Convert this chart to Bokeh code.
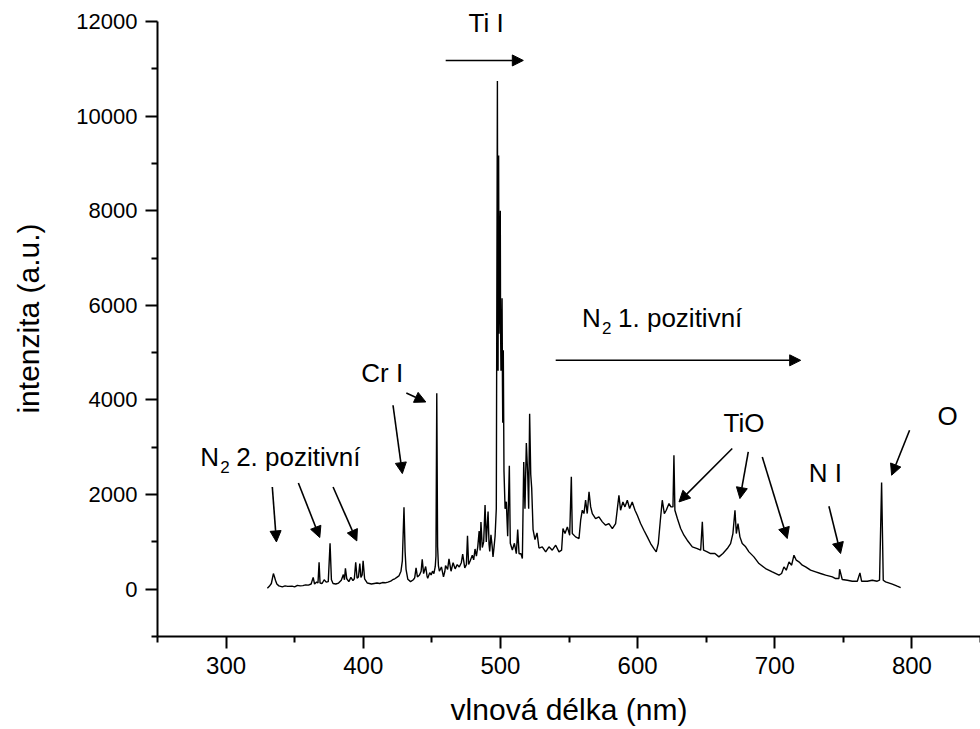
from bokeh.plotting import figure
from bokeh.models import FixedTicker, Label, Arrow, NormalHead, Range1d
from bokeh.embed import file_html
from bokeh.resources import INLINE

# ---- spectrum (wavelength nm, intensity a.u.) ----
wavelength = [
    330.1, 331.5, 333.0, 334.5, 335.3, 336.0, 337.0, 338.5, 341.0, 343.0, 345.0, 348.0, 350.0,
    352.0, 354.0, 356.0, 358.0, 360.0, 362.0, 363.5, 364.5, 366.0, 367.0, 367.8, 368.5, 370.0,
    371.5, 373.0, 374.5, 375.8, 376.8, 378.0, 380.0, 382.0, 384.0, 385.5, 386.3, 387.0, 388.0,
    389.5, 391.0, 392.5, 393.5, 394.5, 395.5, 396.5, 397.5, 398.3, 399.2, 399.9, 401.0, 403.0,
    406.0, 408.0, 410.0, 412.0, 414.0, 416.0, 418.0, 420.0, 421.5, 423.0, 424.5, 426.0, 427.5,
    428.5, 429.7, 430.5, 431.2, 432.5, 434.5, 436.5, 437.5, 438.5, 439.5, 441.0, 442.2, 443.0,
    444.0, 445.5, 446.5, 447.0, 448.5, 449.5, 450.5, 451.5, 452.5, 453.0, 453.6, 454.2, 454.8,
    455.5, 457.0, 458.5, 459.5, 460.0,
    461.5, 462.5, 464.0, 465.5, 467.0, 468.5, 470.0, 471.5, 472.5, 474.0, 475.2, 476.0, 476.8,
    478.0, 479.5, 480.5, 481.5, 482.5, 483.5, 484.5, 485.2, 485.8, 486.8, 487.8, 488.8, 489.7,
    490.3, 491.0, 491.7, 492.2, 493.1, 494.0, 494.6, 495.4, 496.1, 497.0,
    497.8, 498.0, 498.3, 498.5, 498.7, 499.0, 499.2, 499.5, 499.9, 500.1, 500.4, 500.8, 501.2,
    501.5, 501.7, 502.1, 502.6, 503.4, 504.3, 505.3,
    506.5, 507.2, 508.7, 510.2, 511.6, 512.6, 513.6, 515.0, 516.0, 517.0, 517.9, 518.9, 519.9,
    520.6, 521.3, 522.1, 522.8, 523.8, 525.2, 526.7, 528.1,
    530.5, 533.0, 535.4, 537.8, 540.3, 542.7, 544.6, 545.6, 547.1, 548.8, 550.5, 551.7, 552.4,
    554.8, 557.3, 558.5, 559.7, 560.9, 562.1, 563.3, 564.6, 565.8, 567.0, 569.4, 571.8, 574.3,
    576.7, 579.1, 581.6, 584.0, 586.4, 587.6, 589.3, 590.8, 592.5, 594.2, 596.1, 598.1, 599.8,
    602.2, 604.6, 607.1, 609.5, 611.9, 613.6, 615.1, 616.6, 618.0, 619.5, 620.9, 622.9, 624.3,
    625.8, 626.5, 627.2, 629.0, 631.4, 633.8, 636.2, 639.9, 643.5, 646.0, 647.2, 648.1, 650.8,
    653.2, 656.4, 659.3, 662.2, 665.4, 667.8, 669.5, 671.0, 672.0, 673.2, 674.6, 676.3, 678.8,
    681.2, 684.8, 688.5, 693.3, 698.2, 703.1, 705.0, 706.7, 708.4, 710.4, 712.3, 714.0, 715.7,
    717.6, 720.1, 722.5, 726.1, 729.8, 733.4, 737.1, 742.0, 744.4, 746.8, 747.3, 749.2, 752.9,
    756.5, 760.2, 762.1, 763.3, 767.5, 771.1, 774.7, 776.4, 777.9, 779.1, 780.8, 785.7, 789.3,
    791.8,
]
intensity = [
    20, 60, 120, 330, 260, 190, 110, 70, 50, 70, 60, 65, 50,
    80, 70, 75, 90, 85, 110, 250, 110, 150, 130, 570, 130, 120,
    200, 150, 160, 970, 200, 120, 110, 130, 190, 310, 200, 440, 220,
    160, 250, 180, 220, 570, 230, 260, 540, 250, 300, 600, 220, 130,
    110, 120, 130, 120, 140, 135, 150, 170, 200, 220, 250, 280, 380,
    600, 1730, 800, 420, 210, 160, 200, 240, 450, 260, 300, 380, 630,
    330, 480, 280, 230, 350, 300, 380, 330, 480, 700, 4140, 900, 500,
    380, 470, 260, 380, 500,
    420, 640, 380, 560, 430, 520, 470, 560, 740, 450, 520, 1130, 520,
    600, 720, 620, 850, 700, 900, 1230, 820, 1420, 880, 1000, 1780, 1000,
    1300, 1640, 950, 800, 1150, 900, 680, 900, 1120, 1700,
    10740, 7000, 4620, 8200, 9170, 5400, 6080, 7300, 8000, 5600, 4620, 5200, 6150,
    4300, 3520, 5050, 2500, 1700, 1850, 1120,
    2610, 970, 830, 970, 750, 1260, 750, 750, 650, 2690, 1700, 3090, 2430,
    1700, 3710, 2430, 2140, 1260, 1050, 1190, 870,
    895, 790, 895, 824, 930, 789, 824, 1282, 1176, 1317, 1141, 2374, 1176,
    1106, 1071, 1458, 1669, 1599, 1881, 1599, 2057, 1740, 1599, 1493, 1529, 1423,
    1352, 1388, 1282, 1388, 1986, 1669, 1845, 1740, 1881, 1705, 1845, 1669, 1564,
    1388, 1247, 1106, 965, 859, 789, 965, 1458, 1881, 1599, 1669, 1810, 1740,
    1740, 2831, 1669, 1493, 1282, 1141, 1035, 895, 859, 824, 1423, 824, 789,
    754, 754, 683, 754, 859, 965, 1176, 1669, 1176, 1388, 1106, 965, 895,
    789, 683, 542, 437, 366, 296, 331, 472, 402, 578, 507, 719, 613,
    578, 507, 472, 402, 366, 331, 296, 261, 226, 225, 423, 204, 190,
    169, 169, 345, 169, 169, 190, 169, 190, 2254, 190, 155, 106, 63,
    35,
]

# ---- axis ticks ----
x_major = [300, 400, 500, 600, 700, 800]
x_minor = [250, 350, 450, 550, 650, 750, 850]
y_major = [0, 2000, 4000, 6000, 8000, 10000, 12000]
y_minor = [-1000, 1000, 3000, 5000, 7000, 9000, 11000]

# ---- annotations ----
label_text = ["Ti I", "Cr I", "TiO", "N I", "O"]
label_x = [476.8, 398.6, 662.7, 724.7, 818.7]
label_y = [11775, 4380, 3324, 2267, 3480]

sub_main = ["N", "N"]
sub_index = ["2", "2"]
sub_rest = ["2. pozitivní", "1. pozitivní"]
sub_x = [281.1, 559.5]
sub_y = [2599, 5536]

arrow_x0 = [460.1, 540.3, 421.7, 431.4, 333.7, 352.7, 378.0, 669.0, 680.7, 690.9, 739.5, 798.3]
arrow_y0 = [11177, 4838, 3888, 4148, 2161, 2246, 2161, 2973, 2901, 2795, 1754, 3359]
arrow_x1 = [516.7, 718.9, 428.5, 445.6, 336.7, 368.3, 395.3, 630.2, 674.6, 709.1, 748.0, 785.2]
arrow_y1 = [11177, 4838, 2444, 3957, 999, 1092, 1021, 1845, 1916, 1071, 754, 2409]

FONT = "Liberation Sans"
LIFT = 9  # text baseline correction in screen px

# frame reaches the top edge so the "Ti I" label is not clipped;
# the y axis line itself stops at 12000 via its bounds
p = figure(width=980, height=729, output_backend="svg", toolbar_location=None,
           x_range=Range1d(250, 850), y_range=Range1d(-1000, 12444),
           min_border_left=157, min_border_right=0, min_border_top=0, min_border_bottom=93)
p.xgrid.visible = False
p.ygrid.visible = False
p.outline_line_color = None
p.background_fill_color = "white"
p.border_fill_color = "white"

p.line(wavelength, intensity, line_color="black", line_width=1.4)

for ax, maj, mnr in ((p.xaxis[0], x_major, x_minor), (p.yaxis[0], y_major, y_minor)):
    ax.ticker = FixedTicker(ticks=maj, minor_ticks=mnr)
    ax.axis_line_width = 2
    ax.axis_line_color = "black"
    ax.major_tick_line_width = 2
    ax.minor_tick_line_width = 2
    ax.major_tick_line_color = "black"
    ax.minor_tick_line_color = "black"
    ax.major_tick_in = 0
    ax.major_tick_out = 12
    ax.minor_tick_in = 0
    ax.minor_tick_out = 6
    ax.major_label_standoff = 8
    ax.major_label_text_font = FONT
    ax.major_label_text_color = "black"
    ax.axis_label_text_font = FONT
    ax.axis_label_text_font_style = "normal"
    ax.axis_label_text_color = "black"
    ax.axis_label_text_font_size = "30px"

p.yaxis.bounds = (-1000, 12000)
p.xaxis.major_label_text_font_size = "24px"
p.yaxis.major_label_text_font_size = "22px"
p.xaxis.axis_label = "vlnová délka (nm)"
p.yaxis.axis_label = "intenzita (a.u.)"
p.xaxis.axis_label_standoff = 16
p.yaxis.axis_label_standoff = 28

for t, x, y in zip(label_text, label_x, label_y):
    p.add_layout(Label(x=x, y=y, y_offset=LIFT, text=t, text_font=FONT, text_font_size="26px",
                       text_color="black", text_baseline="alphabetic", text_align="left"))

for m, s, r, x, y in zip(sub_main, sub_index, sub_rest, sub_x, sub_y):
    p.add_layout(Label(x=x, y=y, y_offset=LIFT, text=m, text_font=FONT, text_font_size="26px",
                       text_color="black", text_baseline="alphabetic"))
    p.add_layout(Label(x=x, y=y, x_offset=20, y_offset=LIFT - 10, text=s, text_font=FONT,
                       text_font_size="17px", text_color="black", text_baseline="alphabetic"))
    p.add_layout(Label(x=x, y=y, x_offset=36, y_offset=LIFT, text=r, text_font=FONT,
                       text_font_size="26px", text_color="black", text_baseline="alphabetic"))

for x0, y0, x1, y1 in zip(arrow_x0, arrow_y0, arrow_x1, arrow_y1):
    p.add_layout(Arrow(x_start=x0, y_start=y0, x_end=x1, y_end=y1, line_width=1.6,
                       line_color="black",
                       end=NormalHead(size=11, line_color="black", fill_color="black", line_width=1)))

open("out.html", "w").write(file_html(p, INLINE))
